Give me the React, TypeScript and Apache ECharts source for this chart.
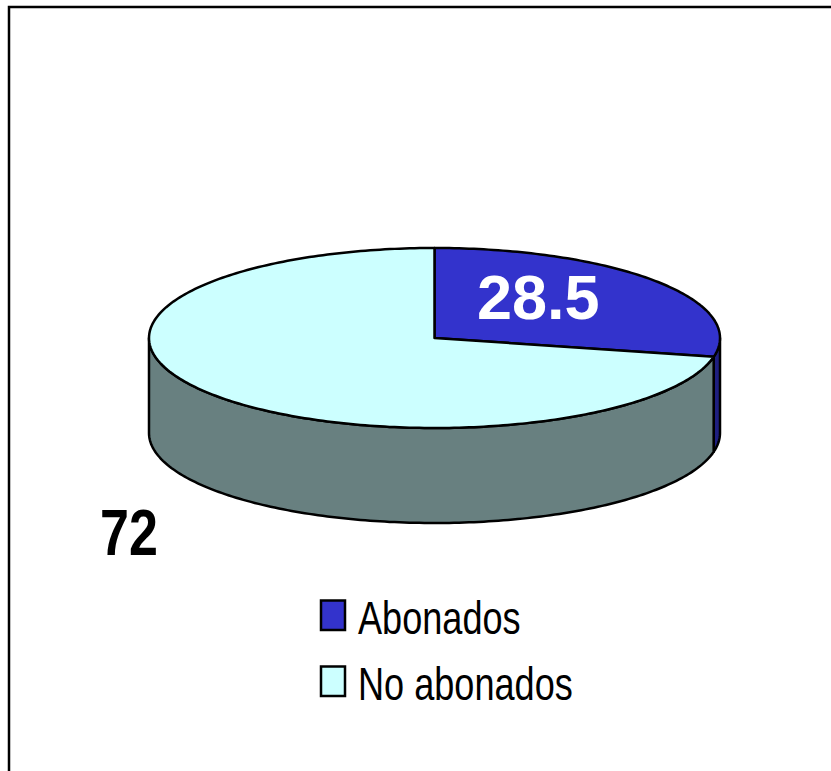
import React, { useEffect, useRef } from "react";
import * as echarts from "echarts";

const categories = ["Abonados", "No abonados"];
const values = [28.5, 72];
const valueLabels = ["28.5", "72"];
const topColors = ["#3333CC", "#CCFFFF"];
const wallColors = ["#1F1F80", "#688080"];

const FONT = '"Liberation Sans", Arial, sans-serif';
const CX = 434.5;
const CY = 338;
const RX = 285.5;
const RY = 90;
const DEPTH = 95;
const INK = "#000000";

const total = values.reduce((a, b) => a + b, 0);

const pointAt = (deg: number, dy = 0): number[] => {
  const r = (deg * Math.PI) / 180;
  return [CX + RX * Math.sin(r), CY - RY * Math.cos(r) + dy];
};

const arc = (from: number, to: number, dy = 0): number[][] => {
  const pts: number[][] = [];
  const steps = Math.max(2, Math.ceil(Math.abs(to - from)));
  for (let i = 0; i <= steps; i++) pts.push(pointAt(from + ((to - from) * i) / steps, dy));
  return pts;
};

const labelPlacement = [
  { x: 477, y: 328, size: 63, fill: "#FFFFFF", scaleX: 1 },
  { x: 100, y: 565, size: 65, fill: "#000000", scaleX: 0.8 },
];

const renderItem = (params: any, api: any) => {
  const i = params.dataIndex;
  let before = 0;
  for (let k = 0; k < i; k++) before += values[k];
  const start = (before / total) * 360;
  const end = start + (api.value(0) / total) * 360;
  const children: any[] = [];

  const wallFrom = Math.max(start, 90);
  const wallTo = Math.min(end, 270);
  if (wallTo > wallFrom) {
    children.push({
      type: "polygon",
      shape: { points: [...arc(wallFrom, wallTo), ...arc(wallTo, wallFrom, DEPTH)] },
      style: { fill: wallColors[i], stroke: INK, lineWidth: 2.5, lineJoin: "round" },
    });
  }
  children.push({
    type: "polygon",
    shape: { points: [[CX, CY], ...arc(start, end)] },
    style: { fill: topColors[i], stroke: INK, lineWidth: 2.5, lineJoin: "round" },
  });
  const lab = labelPlacement[i];
  children.push({
    type: "text",
    x: lab.x,
    y: lab.y,
    scaleX: lab.scaleX,
    z2: 10,
    style: {
      text: valueLabels[i],
      x: 0,
      y: 0,
      fill: lab.fill,
      font: `bold ${lab.size}px ${FONT}`,
      textAlign: "left",
      textVerticalAlign: "bottom",
    },
  });
  return { type: "group", children };
};

const legendGraphics = categories.flatMap((name, i) => {
  const rowY = 66 * i;
  return [
    {
      type: "rect",
      shape: { x: 321, y: 600.5 + rowY, width: 24, height: 29.5 },
      style: { fill: topColors[i], stroke: INK, lineWidth: 2.5 },
    },
    {
      type: "text",
      x: 358,
      y: 641 + rowY,
      scaleX: 0.785,
      style: {
        text: name,
        fill: INK,
        font: `46px ${FONT}`,
        textAlign: "left",
        textVerticalAlign: "bottom",
      },
    },
  ];
});

export default function App() {
  const ref = useRef<HTMLDivElement>(null);
  useEffect(() => {
    const chart = echarts.init(ref.current!, null, { renderer: "svg" });
    chart.setOption({
      animation: false,
      backgroundColor: "#FFFFFF",
      graphic: [
        {
          type: "polyline",
          shape: { points: [[9, 771], [9, 7], [831, 7]] },
          style: { fill: "none", stroke: INK, lineWidth: 2.5 },
        },
        ...legendGraphics,
      ],
      series: [
        {
          type: "custom",
          coordinateSystem: "none",
          renderItem,
          data: values.map((v, i) => ({ name: categories[i], value: [v] })),
        },
      ],
    });
    return () => chart.dispose();
  }, []);
  return <div ref={ref} style={{ position: "fixed", left: 0, top: 0, width: 831, height: 771 }} />;
}
